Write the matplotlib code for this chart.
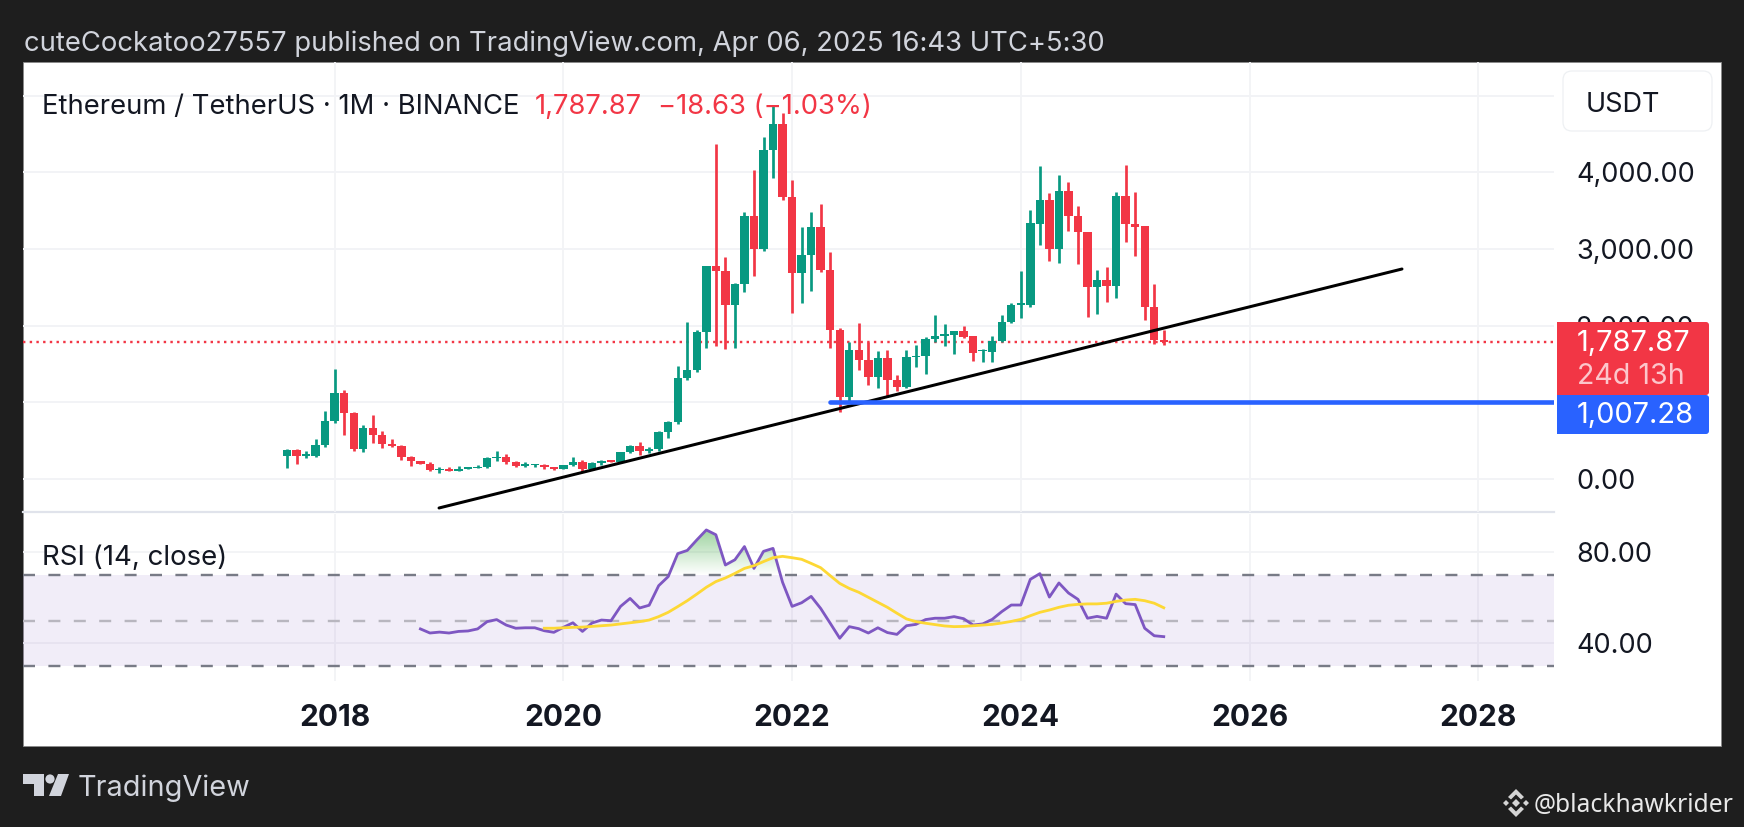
import numpy as np
import matplotlib
matplotlib.use("Agg")
import matplotlib.pyplot as plt
from matplotlib.patches import FancyBboxPatch, Polygon, Circle, Rectangle
from matplotlib.path import Path

plt.rcParams['font.family'] = ['Inter', 'DejaVu Sans']
plt.rcParams['lines.scale_dashes'] = False

# ---- data (monthly candles Aug 2017 .. Apr 2025) ----
opens = [301,383,301,304,441,756,1118,855,396,669,578,455,433,282,232,198,113,131,107,136,141,160,268,290,218,172,180,182,151,
         129,179,226,133,206,231,226,346,435,359,386,616,737,1315,1419,1919,2772,2706,2275,2546,3433,3000,4288,4631,
         3676,2686,2920,3281,2729,1941,1067,1680,1554,1328,1572,1295,1196,1585,1605,1822,1870,1874,1926,1861,1665,1661,1804,2043,
         2274,2270,3326,3639,3000,3752,3430,3226,2509,2596,2513,3696,3330,3296,2239,1806.5]
closes = [383,301,304,441,756,1118,855,396,669,578,455,433,282,232,198,113,131,107,136,141,160,268,290,218,172,180,182,151,129,
          179,226,133,206,231,226,346,435,359,386,616,737,1315,1419,1919,2772,2706,2275,2546,3433,3000,4288,4631,3676,
          2686,2920,3281,2729,1941,1067,1680,1554,1328,1572,1295,1196,1585,1605,1822,1870,1874,1933,1848,1643,1674,1804,2043,2274,
          2287,3335,3639,3000,3752,3430,3217,2509,2596,2513,3696,3326,3291,2239,1813,1787.87]
highs = [393,394,370,515,882,1434,1160,880,704,834,620,515,440,295,240,226,158,160,165,149,187,288,361,320,240,225,198,190,153,
         186,288,250,227,246,254,350,445,488,420,623,756,1470,2041,1947,2783,4372,2890,2550,3478,4027,4460,4868,4778,
         3900,3280,3480,3580,2965,1970,1785,2030,1790,1664,1680,1350,1680,1742,1857,2141,2018,1933,2000,1870,1695,1860,2141,2300,
         2709,3513,4087,3735,3965,3878,3557,3226,2722,2761,3740,4096,3739,3296,2548,1943]
lows = [144,192,276,285,420,736,574,367,358,473,400,420,250,168,190,101,82,101,102,126,137,143,231,193,160,150,155,130,117,
        126,176,85,125,177,216,220,333,308,335,360,532,715,1293,1400,1706,1728,1700,1706,2443,2651,2970,3929,3643,
        2159,2300,2445,2700,1704,880,1006,1422,1220,1190,1073,1150,1190,1461,1368,1785,1740,1626,1840,1543,1530,1520,1780,2030,
        2100,2239,3052,2848,2813,3235,2804,2109,2152,2313,2361,3096,2913,2078,1761,1748]
last_price = 1787.87
blue_level = 1007.28
trend_x = [15.95, 117.0]
trend_y = [-378, 2738]
blue_start = 57.0

rsi_start = 14
rsi = [46.3,44.5,44.9,44.5,45.2,45.4,46.3,49.5,50.4,48.0,46.6,46.8,46.8,45.5,44.8,47.0,49.0,45.2,48.9,50.2,49.9,
       56.2,59.7,55.5,56.7,65.3,69.3,79.4,80.8,85.4,89.8,87.7,74.4,76.7,82.5,72.9,80.4,81.7,66.8,56.2,57.8,60.6,55.3,
       48.8,42.2,47.3,46.4,44.5,46.8,44.7,43.9,47.7,48.3,50.4,51.0,51.0,51.7,50.8,48.0,48.5,50.5,53.9,56.8,56.8,
       68.1,70.6,60.3,66.5,62.1,59.3,51.0,51.8,51.0,61.6,57.4,57.0,46.6,43.3,42.9]
ma_start = 27
rsi_ma = [46.6,46.6,46.8,47.0,47.1,47.4,47.7,48.0,48.5,49.0,49.5,50.2,51.7,53.6,56.1,58.7,61.6,64.6,67.1,68.7,70.7,72.9,
          74.1,75.9,77.6,78.2,77.6,76.9,75.1,73.2,69.7,66.3,64.1,62.4,60.2,58.0,55.8,53.2,50.7,49.5,48.8,48.2,47.6,47.3,
          47.4,47.7,48.0,48.3,48.9,49.6,50.5,52.1,53.6,54.6,55.8,56.7,57.1,57.3,57.3,57.6,58.4,59.0,59.3,58.7,57.6,55.6]

year_labels = ['2018','2020','2022','2024','2026','2028']
year_pos = [5,29,53,77,101,125]
price_ticks = [0,1000,2000,3000,4000,5000]
price_labels = {0:'0.00',2000:'2,000.00',3000:'3,000.00',4000:'4,000.00'}
rsi_grid = [40,80]
rsi_labels = {40:'40.00',80:'80.00'}

GREEN='#089981'; RED='#f23645'; BLUE='#2962ff'; PURPLE='#7e57c2'; YELLOW='#fdd835'
BG='#1e1e1e'; GRID='#f2f3f6'; TXT='#131722'

W,H = 1744,828
fig = plt.figure(figsize=(W/100,H/100),dpi=100,facecolor=BG)
def rect(x0,y0,x1,y1):
    return [x0/W,1-y1/H,(x1-x0)/W,(y1-y0)/H]
PX = 72/100

# full-figure pixel layer underneath
bgax = fig.add_axes([0,0,1,1],zorder=0); bgax.set_xlim(0,W); bgax.set_ylim(H,0); bgax.axis('off')
bgax.add_patch(Rectangle((23,62.5),1697.5,684,fc='white',ec='#8a8a8a',lw=0.6))
bgax.plot([23,1554],[513,513],color='#e0e3eb',lw=2.2*PX)

# price pane
L,R = 23,1554
XL = ((L-287)/9.53,(R-287)/9.53)
ax = fig.add_axes(rect(L,63,R,513),zorder=2,facecolor='none')
ax.set_xlim(*XL); ax.set_ylim((480-513)/0.0767,(480-63)/0.0767)
ax.axis('off')
for t in price_ticks:
    ax.axhline(t,color=GRID,lw=2.0*PX,zorder=1)
for p in year_pos:
    ax.axvline(p,color=GRID,lw=1.8*PX,zorder=1)
idx = np.arange(len(opens))
o,c,h,l = map(np.array,(opens,closes,highs,lows))
cols = [GREEN if b>=a else RED for a,b in zip(o,c)]
ax.vlines(idx,l,h,colors=cols,lw=2.7*PX,zorder=3)
ax.bar(idx,np.maximum(np.abs(c-o),20),bottom=np.minimum(o,c),width=0.88,color=cols,zorder=4,linewidth=0)
ax.axhline(last_price,color=RED,lw=2.4*PX,ls=(0,(2.4*PX,4.3*PX)),zorder=2)
ax.plot(trend_x,trend_y,color='black',lw=3.0*PX,zorder=5,solid_capstyle='round')
ax.plot([blue_start,XL[1]],[blue_level,blue_level],color=BLUE,lw=4.6*PX,zorder=6,solid_capstyle='round')

# rsi pane
rx = fig.add_axes(rect(L,515,R,682),zorder=2,facecolor='none')
rx.set_xlim(*XL)
def r_val(py): return 70-(py-576)/2.275
rx.set_ylim(r_val(682),r_val(515)); rx.axis('off')
for p in year_pos:
    rx.axvline(p,color=GRID,lw=1.8*PX,zorder=1)
for t in rsi_grid:
    rx.axhline(t,color=GRID,lw=1.8*PX,zorder=1)
rx.axhspan(30,70,color=PURPLE,alpha=0.1,lw=0,zorder=1.5)
dash=(0,(12*PX,13.4*PX))
rx.axhline(70,color='#787b86',lw=2.4*PX,ls=dash,zorder=2)
rx.axhline(30,color='#787b86',lw=2.4*PX,ls=dash,zorder=2)
rx.axhline(50,color='#b8b6bf',lw=2.4*PX,ls=dash,zorder=2)
rx_i = rsi_start+np.arange(len(rsi)); rv=np.array(rsi)
poly = rx.fill_between(rx_i,70,rv,where=rv>=70,interpolate=True,facecolor='none',edgecolor='none')
grad = np.zeros((256,1,4)); grad[...,0]=76/255; grad[...,1]=175/255; grad[...,2]=80/255
grad[:,0,3]=np.linspace(0.55,0.0,256)
im = rx.imshow(grad,extent=(rx_i[0],rx_i[-1],70,90),origin='upper',aspect='auto',zorder=2.5)
im.set_clip_path(Path.make_compound_path(*poly.get_paths()),transform=rx.transData)
rx.set_xlim(*XL); rx.set_ylim(r_val(682),r_val(515))
rx.plot(rx_i,rsi,color=PURPLE,lw=2.8*PX,zorder=3)
rx.plot(ma_start+np.arange(len(rsi_ma)),rsi_ma,color=YELLOW,lw=2.8*PX,zorder=4)

# top pixel layer: text and tags
top = fig.add_axes([0,0,1,1],zorder=5,facecolor='none'); top.set_xlim(0,W); top.set_ylim(H,0); top.axis('off')
def T(x,y,s,size,color=TXT,ha='left',weight='normal',family=None,z=3):
    kw = {'family':family} if family else {}
    return top.text(x,y,s,fontsize=size,color=color,ha=ha,va='center_baseline',fontweight=weight,zorder=z,**kw)
T(24,41,'cuteCockatoo27557 published on TradingView.com, Apr 06, 2025 16:43 UTC+5:30',19.75,color='#d1d4dc')
T(42,104,'Ethereum / TetherUS · 1M · BINANCE',19.75)
T(535,104,'1,787.87',19.75,color=RED)
T(658,104,'\u221218.63 (\u22121.03%)',19.75,color=RED)
T(42,555,'RSI (14, close)',19.9)
for v,s in price_labels.items():
    T(1576,479-v*0.0767,s,19.5)
for v,s in rsi_labels.items():
    T(1576,575+(70-v)*2.275,s,19.5)
for p,s in zip(year_pos,year_labels):
    T(287+9.53*p,715.5,s,21.5,ha='center',weight='bold')
top.add_patch(FancyBboxPatch((1568,77),139,50,boxstyle='round,pad=5,rounding_size=9',fc='white',ec='#eef0f3',lw=0.9))
T(1586,102,'USDT',19.5)
top.add_patch(FancyBboxPatch((1557,323),152,73,boxstyle='round,pad=0,rounding_size=3',fc=RED,ec='none',zorder=4))
top.add_patch(Rectangle((1557,323),6,73,fc=RED,ec='none',zorder=4))
top.add_patch(FancyBboxPatch((1557,396),152,39,boxstyle='round,pad=0,rounding_size=3',fc=BLUE,ec='none',zorder=4))
top.add_patch(Rectangle((1557,396),6,39,fc=BLUE,ec='none',zorder=4))
T(1577,341,'1,787.87',20.9,color='white',z=5)
T(1577,374,'24d 13h',20.6,color='#fcc6cb',z=5)
T(1577,413,'1,007.28',20.9,color='white',z=5)
# logo
LG='#d1d4dc'
top.add_patch(Polygon([(23,775),(44,775),(44,797),(34,797),(34,785),(23,785)],fc=LG,ec='none'))
top.add_patch(Circle((50,780),4.6,fc=LG,ec='none'))
top.add_patch(Polygon([(58,775),(69,775),(61,797),(49,797)],fc=LG,ec='none'))
T(78,785,'TradingView',20.8,color=LG)
# watermark
WM='#d4d4d4'; cx,cy=1516,804
top.add_patch(Polygon([(cx,cy-4),(cx+4,cy),(cx,cy+4),(cx-4,cy)],fc=WM,ec='none'))
top.add_patch(Polygon([(cx-13,cy),(cx-10,cy-3),(cx-7,cy),(cx-10,cy+3)],fc=WM,ec='none'))
top.add_patch(Polygon([(cx+13,cy),(cx+10,cy-3),(cx+7,cy),(cx+10,cy+3)],fc=WM,ec='none'))
top.add_patch(Polygon([(cx,cy-14),(cx+8,cy-6),(cx+5,cy-3.5),(cx,cy-8.5),(cx-5,cy-3.5),(cx-8,cy-6)],fc=WM,ec='none'))
top.add_patch(Polygon([(cx,cy+14),(cx+8,cy+6),(cx+5,cy+3.5),(cx,cy+8.5),(cx-5,cy+3.5),(cx-8,cy+6)],fc=WM,ec='none'))
T(1534,803,'@blackhawkrider',17.7,color='#e8e8e8',family='Noto Sans')

fig.savefig('out.png',dpi=100,facecolor=BG)
